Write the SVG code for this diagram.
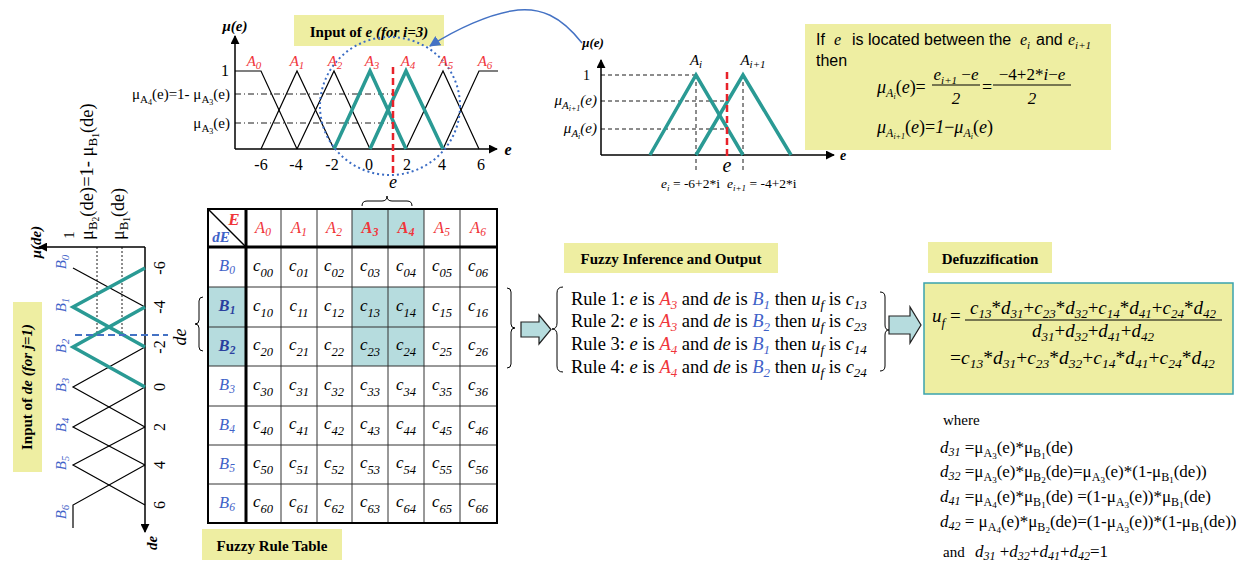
<svg xmlns="http://www.w3.org/2000/svg" width="1258" height="562" viewBox="0 0 1258 562">
<style>
text{font-family:"Liberation Serif","DejaVu Serif",serif;fill:#000}
.sans{font-family:"Liberation Sans",Arial,sans-serif}
.i{font-style:italic}
.b{font-weight:bold}
.red{fill:#f0353a}
.blu{fill:#3f62c8}
.dblu{fill:#2b3f9e}
.mid{text-anchor:middle}
.end{text-anchor:end}
.lbl{fill:#eeeea2}
.ax{stroke:#000;stroke-width:1.5;fill:none}
.mf{stroke:#000;stroke-width:1.2;fill:none}
.mft{stroke:#2a9a94;stroke-width:3.5;fill:none;stroke-linejoin:miter}
.dd{stroke:#000;stroke-width:0.9;stroke-dasharray:6,3,1,3;fill:none}
.ds{stroke:#000;stroke-width:0.9;stroke-dasharray:4,3;fill:none}
.dot{stroke:#000;stroke-width:0.9;stroke-dasharray:2,2;fill:none}
.rdash{stroke:#e8222a;stroke-width:2.5;stroke-dasharray:7,4;fill:none}
.brace{stroke:#000;stroke-width:1;fill:none}
.shade{fill:#b6dcde}
.grid{stroke:#333;stroke-width:1;fill:none}
.blk{fill:#b6dcde;stroke:#222;stroke-width:1.2}
.cell{font-size:17px;text-anchor:middle;font-style:italic}
.sub{font-size:12.5px}
</style>
<defs>
<marker id="ah" viewBox="0 0 10 10" refX="9" refY="5" markerWidth="9" markerHeight="9" markerUnits="userSpaceOnUse" orient="auto"><path d="M0,0 L10,5 L0,10 z" fill="#000"/></marker>
<marker id="bh" viewBox="0 0 10 10" refX="9" refY="5" markerWidth="11" markerHeight="11" markerUnits="userSpaceOnUse" orient="auto"><path d="M0,0 L10,5 L0,10 z" fill="#4472c4"/></marker>
</defs>
<rect width="1258" height="562" fill="#fff"/>

<!-- Top-left membership plot -->
<g id="plot-e">
<rect class="lbl" x="294" y="15" width="150" height="31"/>
<text x="369" y="37" class="mid b" font-size="15">Input of <tspan class="i">e</tspan><tspan class="i">  (for i=3)</tspan></text>
<line class="ax" x1="235" y1="149" x2="235" y2="36" marker-end="url(#ah)"/>
<line class="ax" x1="235" y1="149" x2="497" y2="149" marker-end="url(#ah)"/>
<text x="235" y="31" class="mid b i" font-size="15">μ(e)</text>
<text x="508" y="155" class="mid b i" font-size="16">e</text>
<line class="dd" x1="235" y1="94" x2="393" y2="94"/>
<line class="dd" x1="235" y1="123" x2="393" y2="123"/>
<polyline class="mf" points="235,71 261,71 297,149"/>
<polyline class="mf" points="261,149 297,71 334,149"/>
<polyline class="mf" points="297,149 334,71 370,149"/>
<polyline class="mf" points="406,149 443,71 479,149"/>
<polyline class="mf" points="443,149 479,71 498,71"/>
<polyline class="mft" points="334,149 370,71 406,149"/>
<polyline class="mft" points="370,149 406,71 443,149"/>
<line class="rdash" x1="393" y1="67" x2="393" y2="176"/>
<ellipse cx="390" cy="106" rx="70" ry="69" fill="none" stroke="#3b6cc4" stroke-width="2" stroke-dasharray="2,3"/>
<text x="229" y="76" class="end" font-size="16">1</text>
<text x="230" y="99" class="end" font-size="15">μ<tspan font-size="11" dy="4">A</tspan><tspan font-size="8" dy="2">4</tspan><tspan dy="-6">(e)=1- μ</tspan><tspan font-size="11" dy="4">A</tspan><tspan font-size="8" dy="2">3</tspan><tspan dy="-6">(e)</tspan></text>
<text x="230" y="128" class="end" font-size="15">μ<tspan font-size="11" dy="4">A</tspan><tspan font-size="8" dy="2">3</tspan><tspan dy="-6">(e)</tspan></text>
<g font-size="16" class="mid">
<text x="261" y="170" class="mid">-6</text>
<text x="296" y="170" class="mid">-4</text>
<text x="332" y="170" class="mid">-2</text>
<text x="369" y="170" class="mid">0</text>
<text x="407" y="170" class="mid">2</text>
<text x="442" y="170" class="mid">4</text>
<text x="481" y="170" class="mid">6</text>
</g>
<g font-size="15">
<text x="254" y="66" class="mid i red">A<tspan font-size="11" dy="3">0</tspan></text>
<text x="297" y="66" class="mid i red">A<tspan font-size="11" dy="3">1</tspan></text>
<text x="335" y="66" class="mid i red">A<tspan font-size="11" dy="3">2</tspan></text>
<text x="372" y="66" class="mid i red">A<tspan font-size="11" dy="3">3</tspan></text>
<text x="408" y="66" class="mid i red">A<tspan font-size="11" dy="3">4</tspan></text>
<text x="446" y="66" class="mid i red">A<tspan font-size="11" dy="3">5</tspan></text>
<text x="485" y="66" class="mid i red">A<tspan font-size="11" dy="3">6</tspan></text>
</g>
<text x="393" y="188" class="mid i" font-size="18">e</text>
</g>

<!-- Top-right detail plot -->
<g id="plot-detail">
<line class="ax" x1="601" y1="155" x2="601" y2="60" marker-end="url(#ah)"/>
<line class="ax" x1="601" y1="155" x2="834" y2="155" marker-end="url(#ah)"/>
<text x="593" y="47" class="mid b i" font-size="13">μ(e)</text>
<text x="843" y="160" class="mid b i" font-size="14">e</text>
<line class="ds" x1="601" y1="75" x2="696" y2="75"/>
<line class="ds" x1="601" y1="101" x2="727" y2="101"/>
<line class="ds" x1="601" y1="129" x2="727" y2="129"/>
<line class="ds" x1="696" y1="75" x2="696" y2="173"/>
<line class="ds" x1="743" y1="75" x2="743" y2="173"/>
<polyline class="mft" points="650,155 696,75 743,155"/>
<polyline class="mft" points="696,155 743,75 791,155"/>
<line class="rdash" x1="727" y1="72" x2="727" y2="158"/>
<text x="727" y="172" class="mid i" font-size="20">e</text>
<text x="590" y="80" class="end" font-size="14">1</text>
<text x="597" y="105" class="end i" font-size="15">μ<tspan font-size="11" dy="4">A</tspan><tspan font-size="8" dy="2">i+1</tspan><tspan dy="-6">(e)</tspan></text>
<text x="597" y="133" class="end i" font-size="15">μ<tspan font-size="11" dy="4">A</tspan><tspan font-size="8" dy="2">i</tspan><tspan dy="-6">(e)</tspan></text>
<text x="696" y="65" class="mid i" font-size="15">A<tspan font-size="11" dy="3">i</tspan></text>
<text x="753" y="65" class="mid i" font-size="15">A<tspan font-size="11" dy="3">i+1</tspan></text>
<text x="661" y="188" font-size="13.5"><tspan class="i">e</tspan><tspan class="i" font-size="9" dy="3">i</tspan><tspan dy="-3"> = -6+2*i</tspan></text>
<text x="727" y="188" font-size="13.5"><tspan class="i">e</tspan><tspan class="i" font-size="9" dy="3">i+1</tspan><tspan dy="-3"> = -4+2*i</tspan></text>
</g>

<!-- Formula box top-right -->
<g id="formula-mu">
<rect class="lbl" x="805" y="24" width="306" height="126"/>
<text x="816" y="45" class="sans" font-size="16">If</text>
<text x="834" y="45" class="i" font-size="16">e</text>
<text x="852" y="45" class="sans" font-size="16">is located between the</text>
<text x="1020" y="45" class="i" font-size="16">e<tspan font-size="11" dy="4">i</tspan></text>
<text x="1036" y="45" class="sans" font-size="16">and</text>
<text x="1068" y="45" class="i" font-size="16">e<tspan font-size="11" dy="4">i+1</tspan></text>
<text x="816" y="66" class="sans" font-size="16">then</text>
<text x="877" y="93" font-size="18"><tspan class="i">μ</tspan><tspan class="i" font-size="12" dy="4">A</tspan><tspan class="i" font-size="8" dy="2">i</tspan><tspan dy="-6">(</tspan><tspan class="i">e</tspan><tspan>)=</tspan></text>
<text x="956" y="80" class="mid" font-size="17"><tspan class="i">e</tspan><tspan class="i" font-size="11" dy="4">i+1</tspan><tspan dy="-4"> −</tspan><tspan class="i">e</tspan></text>
<line x1="932" y1="85" x2="980" y2="85" stroke="#000" stroke-width="1"/>
<text x="956" y="104" class="mid i" font-size="17">2</text>
<text x="987" y="93" class="mid" font-size="18">=</text>
<text x="1032" y="80" class="mid" font-size="17">−4+2*<tspan class="i">i</tspan>−<tspan class="i">e</tspan></text>
<line x1="993" y1="85" x2="1071" y2="85" stroke="#000" stroke-width="1"/>
<text x="1032" y="104" class="mid i" font-size="17">2</text>
<text x="877" y="133" font-size="18"><tspan class="i">μ</tspan><tspan class="i" font-size="12" dy="4">A</tspan><tspan class="i" font-size="8" dy="2">i+1</tspan><tspan dy="-6">(</tspan><tspan class="i">e</tspan><tspan>)=</tspan><tspan class="i">1</tspan><tspan>−</tspan><tspan class="i">μ</tspan><tspan class="i" font-size="12" dy="4">A</tspan><tspan class="i" font-size="8" dy="2">i</tspan><tspan dy="-6">(</tspan><tspan class="i">e</tspan><tspan>)</tspan></text>
</g>

<!-- Left rotated membership plot for de -->
<g id="plot-de">
<rect class="lbl" x="13" y="302" width="29" height="170"/>
<text x="32" y="387" class="mid b" font-size="15" transform="rotate(-90 32 387)">Input of <tspan class="i">de</tspan><tspan class="i">  (for j=1)</tspan></text>
<line class="ax" x1="145" y1="247" x2="39" y2="247" marker-end="url(#ah)"/>
<line class="ax" x1="145" y1="247" x2="145" y2="532" marker-end="url(#ah)"/>
<text x="41" y="242" class="mid b i" font-size="15" transform="rotate(-90 41 242)">μ(de)</text>
<text x="157" y="543" class="mid b i" font-size="15" transform="rotate(-90 157 543)">de</text>
<line class="dot" x1="97" y1="247" x2="97" y2="335"/>
<line class="dot" x1="122" y1="247" x2="122" y2="335"/>
<polyline class="mf" points="73,268 145,307"/>
<polyline class="mf" points="145,347 73,387 145,427"/>
<polyline class="mf" points="145,387 73,427 145,465"/>
<polyline class="mf" points="145,427 73,465 145,505"/>
<polyline class="mf" points="145,465 73,505 73,528"/>
<polyline class="mft" points="145,268 73,307 145,347"/>
<polyline class="mft" points="145,307 73,347 145,387"/>
<line x1="75" y1="335" x2="168" y2="335" stroke="#4472c4" stroke-width="2" stroke-dasharray="7,4"/>
<text x="186" y="337" class="mid i" font-size="18" transform="rotate(-90 186 337)">de</text>
<text x="74" y="235" class="mid" font-size="15" transform="rotate(-90 74 235)">1</text>
<text x="93" y="240" font-size="18.5" transform="rotate(-90 93 240)">μ<tspan font-size="13" dy="4">B</tspan><tspan font-size="9.5" dy="2">2</tspan><tspan dy="-6">(de)=1- μ</tspan><tspan font-size="13" dy="4">B</tspan><tspan font-size="9.5" dy="2">1</tspan><tspan dy="-6">(de)</tspan></text>
<text x="124" y="240" font-size="18" transform="rotate(-90 124 240)">μ<tspan font-size="13" dy="4">B</tspan><tspan font-size="9.5" dy="2">1</tspan><tspan dy="-6">(de)</tspan></text>
<g font-size="16">
<text x="165" y="268" class="mid" transform="rotate(-90 165 268)">-6</text>
<text x="165" y="307" class="mid" transform="rotate(-90 165 307)">-4</text>
<text x="165" y="347" class="mid" transform="rotate(-90 165 347)">-2</text>
<text x="165" y="387" class="mid" transform="rotate(-90 165 387)">0</text>
<text x="165" y="427" class="mid" transform="rotate(-90 165 427)">2</text>
<text x="165" y="465" class="mid" transform="rotate(-90 165 465)">4</text>
<text x="165" y="505" class="mid" transform="rotate(-90 165 505)">6</text>
</g>
<g font-size="15">
<text x="66" y="262" class="mid i blu" transform="rotate(-90 66 262)">B<tspan font-size="11" dy="3">0</tspan></text>
<text x="66" y="305" class="mid i blu" transform="rotate(-90 66 305)">B<tspan font-size="11" dy="3">1</tspan></text>
<text x="66" y="346" class="mid i blu" transform="rotate(-90 66 346)">B<tspan font-size="11" dy="3">2</tspan></text>
<text x="66" y="385" class="mid i blu" transform="rotate(-90 66 385)">B<tspan font-size="11" dy="3">3</tspan></text>
<text x="66" y="425" class="mid i blu" transform="rotate(-90 66 425)">B<tspan font-size="11" dy="3">4</tspan></text>
<text x="66" y="463" class="mid i blu" transform="rotate(-90 66 463)">B<tspan font-size="11" dy="3">5</tspan></text>
<text x="66" y="512" class="mid i blu" transform="rotate(-90 66 512)">B<tspan font-size="11" dy="3">6</tspan></text>
</g>
</g>

<!-- Fuzzy rule table -->
<g id="rule-table">
<rect class="shade" x="352" y="209" width="72" height="38"/>
<rect class="shade" x="208" y="287" width="38" height="79"/>
<rect class="shade" x="352" y="287" width="72" height="79"/>
<g class="grid">
<line x1="281" y1="209" x2="281" y2="523"/><line x1="317" y1="209" x2="317" y2="523"/>
<line x1="352" y1="209" x2="352" y2="523"/><line x1="388" y1="209" x2="388" y2="523"/>
<line x1="424" y1="209" x2="424" y2="523"/><line x1="460" y1="209" x2="460" y2="523"/>
<line x1="208" y1="287" x2="497" y2="287"/><line x1="208" y1="327" x2="497" y2="327"/>
<line x1="208" y1="366" x2="497" y2="366"/><line x1="208" y1="406" x2="497" y2="406"/>
<line x1="208" y1="445" x2="497" y2="445"/><line x1="208" y1="484" x2="497" y2="484"/>
</g>
<line x1="246" y1="209" x2="246" y2="523" stroke="#000" stroke-width="3"/>
<line x1="208" y1="247" x2="497" y2="247" stroke="#000" stroke-width="3"/>
<rect x="208" y="209" width="289" height="314" fill="none" stroke="#000" stroke-width="2"/>
<line x1="208" y1="209" x2="246" y2="247" stroke="#000" stroke-width="1.5"/>
<text x="234" y="225" class="mid b i red" font-size="17">E</text>
<text x="221" y="242" class="mid b i blu" font-size="15">dE</text>
<g font-size="16.5">
<text x="263" y="233" class="mid i red">A<tspan font-size="11.5" dy="3">0</tspan></text>
<text x="299" y="233" class="mid i red">A<tspan font-size="11.5" dy="3">1</tspan></text>
<text x="334" y="233" class="mid i red">A<tspan font-size="11.5" dy="3">2</tspan></text>
<text x="370" y="233" class="mid i b red">A<tspan font-size="11.5" dy="3">3</tspan></text>
<text x="406" y="233" class="mid i b red">A<tspan font-size="11.5" dy="3">4</tspan></text>
<text x="442" y="233" class="mid i red">A<tspan font-size="11.5" dy="3">5</tspan></text>
<text x="478" y="233" class="mid i red">A<tspan font-size="11.5" dy="3">6</tspan></text>
<text x="227" y="271" class="mid i blu">B<tspan font-size="11.5" dy="3">0</tspan></text>
<text x="227" y="311" class="mid i b dblu">B<tspan font-size="11.5" dy="3">1</tspan></text>
<text x="227" y="351" class="mid i b dblu">B<tspan font-size="11.5" dy="3">2</tspan></text>
<text x="227" y="390" class="mid i blu">B<tspan font-size="11.5" dy="3">3</tspan></text>
<text x="227" y="430" class="mid i blu">B<tspan font-size="11.5" dy="3">4</tspan></text>
<text x="227" y="469" class="mid i blu">B<tspan font-size="11.5" dy="3">5</tspan></text>
<text x="227" y="508" class="mid i blu">B<tspan font-size="11.5" dy="3">6</tspan></text>
</g>
<g>
<text x="263" y="271" class="cell">c<tspan class="sub" dy="6">00</tspan></text>
<text x="299" y="271" class="cell">c<tspan class="sub" dy="6">01</tspan></text>
<text x="334" y="271" class="cell">c<tspan class="sub" dy="6">02</tspan></text>
<text x="370" y="271" class="cell">c<tspan class="sub" dy="6">03</tspan></text>
<text x="406" y="271" class="cell">c<tspan class="sub" dy="6">04</tspan></text>
<text x="442" y="271" class="cell">c<tspan class="sub" dy="6">05</tspan></text>
<text x="478" y="271" class="cell">c<tspan class="sub" dy="6">06</tspan></text>
<text x="263" y="311" class="cell">c<tspan class="sub" dy="6">10</tspan></text>
<text x="299" y="311" class="cell">c<tspan class="sub" dy="6">11</tspan></text>
<text x="334" y="311" class="cell">c<tspan class="sub" dy="6">12</tspan></text>
<text x="370" y="311" class="cell">c<tspan class="sub" dy="6">13</tspan></text>
<text x="406" y="311" class="cell">c<tspan class="sub" dy="6">14</tspan></text>
<text x="442" y="311" class="cell">c<tspan class="sub" dy="6">15</tspan></text>
<text x="478" y="311" class="cell">c<tspan class="sub" dy="6">16</tspan></text>
<text x="263" y="350" class="cell">c<tspan class="sub" dy="6">20</tspan></text>
<text x="299" y="350" class="cell">c<tspan class="sub" dy="6">21</tspan></text>
<text x="334" y="350" class="cell">c<tspan class="sub" dy="6">22</tspan></text>
<text x="370" y="350" class="cell">c<tspan class="sub" dy="6">23</tspan></text>
<text x="406" y="350" class="cell">c<tspan class="sub" dy="6">24</tspan></text>
<text x="442" y="350" class="cell">c<tspan class="sub" dy="6">25</tspan></text>
<text x="478" y="350" class="cell">c<tspan class="sub" dy="6">26</tspan></text>
<text x="263" y="390" class="cell">c<tspan class="sub" dy="6">30</tspan></text>
<text x="299" y="390" class="cell">c<tspan class="sub" dy="6">31</tspan></text>
<text x="334" y="390" class="cell">c<tspan class="sub" dy="6">32</tspan></text>
<text x="370" y="390" class="cell">c<tspan class="sub" dy="6">33</tspan></text>
<text x="406" y="390" class="cell">c<tspan class="sub" dy="6">34</tspan></text>
<text x="442" y="390" class="cell">c<tspan class="sub" dy="6">35</tspan></text>
<text x="478" y="390" class="cell">c<tspan class="sub" dy="6">36</tspan></text>
<text x="263" y="429" class="cell">c<tspan class="sub" dy="6">40</tspan></text>
<text x="299" y="429" class="cell">c<tspan class="sub" dy="6">41</tspan></text>
<text x="334" y="429" class="cell">c<tspan class="sub" dy="6">42</tspan></text>
<text x="370" y="429" class="cell">c<tspan class="sub" dy="6">43</tspan></text>
<text x="406" y="429" class="cell">c<tspan class="sub" dy="6">44</tspan></text>
<text x="442" y="429" class="cell">c<tspan class="sub" dy="6">45</tspan></text>
<text x="478" y="429" class="cell">c<tspan class="sub" dy="6">46</tspan></text>
<text x="263" y="468" class="cell">c<tspan class="sub" dy="6">50</tspan></text>
<text x="299" y="468" class="cell">c<tspan class="sub" dy="6">51</tspan></text>
<text x="334" y="468" class="cell">c<tspan class="sub" dy="6">52</tspan></text>
<text x="370" y="468" class="cell">c<tspan class="sub" dy="6">53</tspan></text>
<text x="406" y="468" class="cell">c<tspan class="sub" dy="6">54</tspan></text>
<text x="442" y="468" class="cell">c<tspan class="sub" dy="6">55</tspan></text>
<text x="478" y="468" class="cell">c<tspan class="sub" dy="6">56</tspan></text>
<text x="263" y="507" class="cell">c<tspan class="sub" dy="6">60</tspan></text>
<text x="299" y="507" class="cell">c<tspan class="sub" dy="6">61</tspan></text>
<text x="334" y="507" class="cell">c<tspan class="sub" dy="6">62</tspan></text>
<text x="370" y="507" class="cell">c<tspan class="sub" dy="6">63</tspan></text>
<text x="406" y="507" class="cell">c<tspan class="sub" dy="6">64</tspan></text>
<text x="442" y="507" class="cell">c<tspan class="sub" dy="6">65</tspan></text>
<text x="478" y="507" class="cell">c<tspan class="sub" dy="6">66</tspan></text>
</g>
<rect class="lbl" x="202" y="529" width="140" height="31"/>
<text x="272" y="551" class="mid b" font-size="15">Fuzzy Rule Table</text>
</g>

<!-- Fuzzy inference -->
<g id="inference">
<rect class="lbl" x="564" y="243" width="214" height="30"/>
<text x="671" y="264" class="mid b" font-size="15">Fuzzy Inference and Output</text>
<g font-size="18.5">
<text x="571" y="305">Rule 1: <tspan class="i">e</tspan> is <tspan class="i red">A</tspan><tspan class="i red" font-size="13" dy="4">3</tspan><tspan dy="-4"> and </tspan><tspan class="i">de</tspan> is <tspan class="i blu">B</tspan><tspan class="i blu" font-size="13" dy="4">1</tspan><tspan dy="-4"> then </tspan><tspan class="i">u</tspan><tspan class="i" font-size="13" dy="4">f</tspan><tspan dy="-4"> is </tspan><tspan class="i">c</tspan><tspan class="i" font-size="13" dy="4">13</tspan></text>
<text x="571" y="327">Rule 2: <tspan class="i">e</tspan> is <tspan class="i red">A</tspan><tspan class="i red" font-size="13" dy="4">3</tspan><tspan dy="-4"> and </tspan><tspan class="i">de</tspan> is <tspan class="i blu">B</tspan><tspan class="i blu" font-size="13" dy="4">2</tspan><tspan dy="-4"> then </tspan><tspan class="i">u</tspan><tspan class="i" font-size="13" dy="4">f</tspan><tspan dy="-4"> is </tspan><tspan class="i">c</tspan><tspan class="i" font-size="13" dy="4">23</tspan></text>
<text x="571" y="350">Rule 3: <tspan class="i">e</tspan> is <tspan class="i red">A</tspan><tspan class="i red" font-size="13" dy="4">4</tspan><tspan dy="-4"> and </tspan><tspan class="i">de</tspan> is <tspan class="i blu">B</tspan><tspan class="i blu" font-size="13" dy="4">1</tspan><tspan dy="-4"> then </tspan><tspan class="i">u</tspan><tspan class="i" font-size="13" dy="4">f</tspan><tspan dy="-4"> is </tspan><tspan class="i">c</tspan><tspan class="i" font-size="13" dy="4">14</tspan></text>
<text x="571" y="373">Rule 4: <tspan class="i">e</tspan> is <tspan class="i red">A</tspan><tspan class="i red" font-size="13" dy="4">4</tspan><tspan dy="-4"> and </tspan><tspan class="i">de</tspan> is <tspan class="i blu">B</tspan><tspan class="i blu" font-size="13" dy="4">2</tspan><tspan dy="-4"> then </tspan><tspan class="i">u</tspan><tspan class="i" font-size="13" dy="4">f</tspan><tspan dy="-4"> is </tspan><tspan class="i">c</tspan><tspan class="i" font-size="13" dy="4">24</tspan></text>
</g>
</g>

<!-- Defuzzification -->
<g id="defuzz">
<rect class="lbl" x="928" y="242" width="124" height="31"/>
<text x="990" y="264" class="mid b" font-size="15">Defuzzification</text>
<rect x="924" y="283" width="309" height="111" fill="#eeeea2" stroke="#3aa3ad" stroke-width="1.5"/>
<text x="932" y="322" font-size="19"><tspan class="i">u</tspan><tspan class="i" font-size="13" dy="5">f</tspan><tspan dy="-5"> =</tspan></text>
<text x="1093" y="314" class="mid" font-size="19"><tspan class="i">c</tspan><tspan class="i" font-size="13" dy="4">13</tspan><tspan dy="-4">*</tspan><tspan class="i">d</tspan><tspan class="i" font-size="13" dy="4">31</tspan><tspan dy="-4">+</tspan><tspan class="i">c</tspan><tspan class="i" font-size="13" dy="4">23</tspan><tspan dy="-4">*</tspan><tspan class="i">d</tspan><tspan class="i" font-size="13" dy="4">32</tspan><tspan dy="-4">+</tspan><tspan class="i">c</tspan><tspan class="i" font-size="13" dy="4">14</tspan><tspan dy="-4">*</tspan><tspan class="i">d</tspan><tspan class="i" font-size="13" dy="4">41</tspan><tspan dy="-4">+</tspan><tspan class="i">c</tspan><tspan class="i" font-size="13" dy="4">24</tspan><tspan dy="-4">*</tspan><tspan class="i">d</tspan><tspan class="i" font-size="13" dy="4">42</tspan></text>
<line x1="965" y1="320" x2="1222" y2="320" stroke="#000" stroke-width="1"/>
<text x="1093" y="337" class="mid" font-size="19"><tspan class="i">d</tspan><tspan class="i" font-size="13" dy="4">31</tspan><tspan dy="-4">+</tspan><tspan class="i">d</tspan><tspan class="i" font-size="13" dy="4">32</tspan><tspan dy="-4">+</tspan><tspan class="i">d</tspan><tspan class="i" font-size="13" dy="4">41</tspan><tspan dy="-4">+</tspan><tspan class="i">d</tspan><tspan class="i" font-size="13" dy="4">42</tspan></text>
<text x="950" y="364" font-size="19.5">=<tspan class="i">c</tspan><tspan class="i" font-size="13.5" dy="4">13</tspan><tspan dy="-4">*</tspan><tspan class="i">d</tspan><tspan class="i" font-size="13.5" dy="4">31</tspan><tspan dy="-4">+</tspan><tspan class="i">c</tspan><tspan class="i" font-size="13.5" dy="4">23</tspan><tspan dy="-4">*</tspan><tspan class="i">d</tspan><tspan class="i" font-size="13.5" dy="4">32</tspan><tspan dy="-4">+</tspan><tspan class="i">c</tspan><tspan class="i" font-size="13.5" dy="4">14</tspan><tspan dy="-4">*</tspan><tspan class="i">d</tspan><tspan class="i" font-size="13.5" dy="4">41</tspan><tspan dy="-4">+</tspan><tspan class="i">c</tspan><tspan class="i" font-size="13.5" dy="4">24</tspan><tspan dy="-4">*</tspan><tspan class="i">d</tspan><tspan class="i" font-size="13.5" dy="4">42</tspan></text>
<text x="943" y="425" font-size="15">where</text>
<g font-size="17">
<text x="940" y="453"><tspan class="i">d</tspan><tspan class="i" font-size="12" dy="3">31</tspan><tspan dy="-3"> =μ</tspan><tspan font-size="12" dy="4">A</tspan><tspan font-size="9" dy="2">3</tspan><tspan dy="-6">(e)*μ</tspan><tspan font-size="12" dy="4">B</tspan><tspan font-size="9" dy="2">1</tspan><tspan dy="-6">(de)</tspan></text>
<text x="940" y="477"><tspan class="i">d</tspan><tspan class="i" font-size="12" dy="3">32</tspan><tspan dy="-3"> =μ</tspan><tspan font-size="12" dy="4">A</tspan><tspan font-size="9" dy="2">3</tspan><tspan dy="-6">(e)*μ</tspan><tspan font-size="12" dy="4">B</tspan><tspan font-size="9" dy="2">2</tspan><tspan dy="-6">(de)=μ</tspan><tspan font-size="12" dy="4">A</tspan><tspan font-size="9" dy="2">3</tspan><tspan dy="-6">(e)*(1-μ</tspan><tspan font-size="12" dy="4">B</tspan><tspan font-size="9" dy="2">1</tspan><tspan dy="-6">(de))</tspan></text>
<text x="940" y="502"><tspan class="i">d</tspan><tspan class="i" font-size="12" dy="3">41</tspan><tspan dy="-3"> =μ</tspan><tspan font-size="12" dy="4">A</tspan><tspan font-size="9" dy="2">4</tspan><tspan dy="-6">(e)*μ</tspan><tspan font-size="12" dy="4">B</tspan><tspan font-size="9" dy="2">1</tspan><tspan dy="-6">(de) =(1-μ</tspan><tspan font-size="12" dy="4">A</tspan><tspan font-size="9" dy="2">3</tspan><tspan dy="-6">(e))*μ</tspan><tspan font-size="12" dy="4">B</tspan><tspan font-size="9" dy="2">1</tspan><tspan dy="-6">(de)</tspan></text>
<text x="940" y="527"><tspan class="i">d</tspan><tspan class="i" font-size="12" dy="3">42</tspan><tspan dy="-3"> = μ</tspan><tspan font-size="12" dy="4">A</tspan><tspan font-size="9" dy="2">4</tspan><tspan dy="-6">(e)*μ</tspan><tspan font-size="12" dy="4">B</tspan><tspan font-size="9" dy="2">2</tspan><tspan dy="-6">(de)=(1-μ</tspan><tspan font-size="12" dy="4">A</tspan><tspan font-size="9" dy="2">3</tspan><tspan dy="-6">(e))*(1-μ</tspan><tspan font-size="12" dy="4">B</tspan><tspan font-size="9" dy="2">1</tspan><tspan dy="-6">(de))</tspan></text>
</g>
<text x="943" y="557" font-size="15">and</text>
<text x="975" y="557" font-size="17"><tspan class="i">d</tspan><tspan class="i" font-size="12" dy="3">31</tspan><tspan dy="-3"> +</tspan><tspan class="i">d</tspan><tspan class="i" font-size="12" dy="3">32</tspan><tspan dy="-3">+</tspan><tspan class="i">d</tspan><tspan class="i" font-size="12" dy="3">41</tspan><tspan dy="-3">+</tspan><tspan class="i">d</tspan><tspan class="i" font-size="12" dy="3">42</tspan><tspan dy="-3">=1</tspan></text>
</g>

<!-- Connectors: braces, block arrows, curved arrow -->
<g id="connectors">
<path class="brace" d="M362,206 Q362,201 367,201 L382,201 Q387,201 387,196 Q387,201 392,201 L407,201 Q412,201 412,206"/>
<path class="brace" d="M203,297 Q199,297 199,301 L199,320 Q199,324 195,324 Q199,324 199,328 L199,347 Q199,351 203,351"/>
<path class="brace" d="M507,288 Q511,288 511,292 L511,324 Q511,328 515,328 Q511,328 511,332 L511,364 Q511,368 507,368"/>
<path class="brace" d="M563,287 Q557,287 557,293 L557,323 Q557,329 552,329 Q557,329 557,335 L557,366 Q557,372 563,372"/>
<path class="brace" d="M880,292 Q885,292 885,297 L885,325 Q885,330 889,330 Q885,330 885,335 L885,366 Q885,371 880,371"/>
<polygon class="blk" points="521,322 539,322 539,315 551,329.5 539,344 539,337 521,337"/>
<polygon class="blk" points="889,316 910,316 910,307 921,325 910,343 910,334 889,334"/>
<path d="M582,43 C560,15 540,8 518,10 C490,13 455,30 430,46" fill="none" stroke="#4472c4" stroke-width="1.5" marker-end="url(#bh)"/>
</g>
</svg>
